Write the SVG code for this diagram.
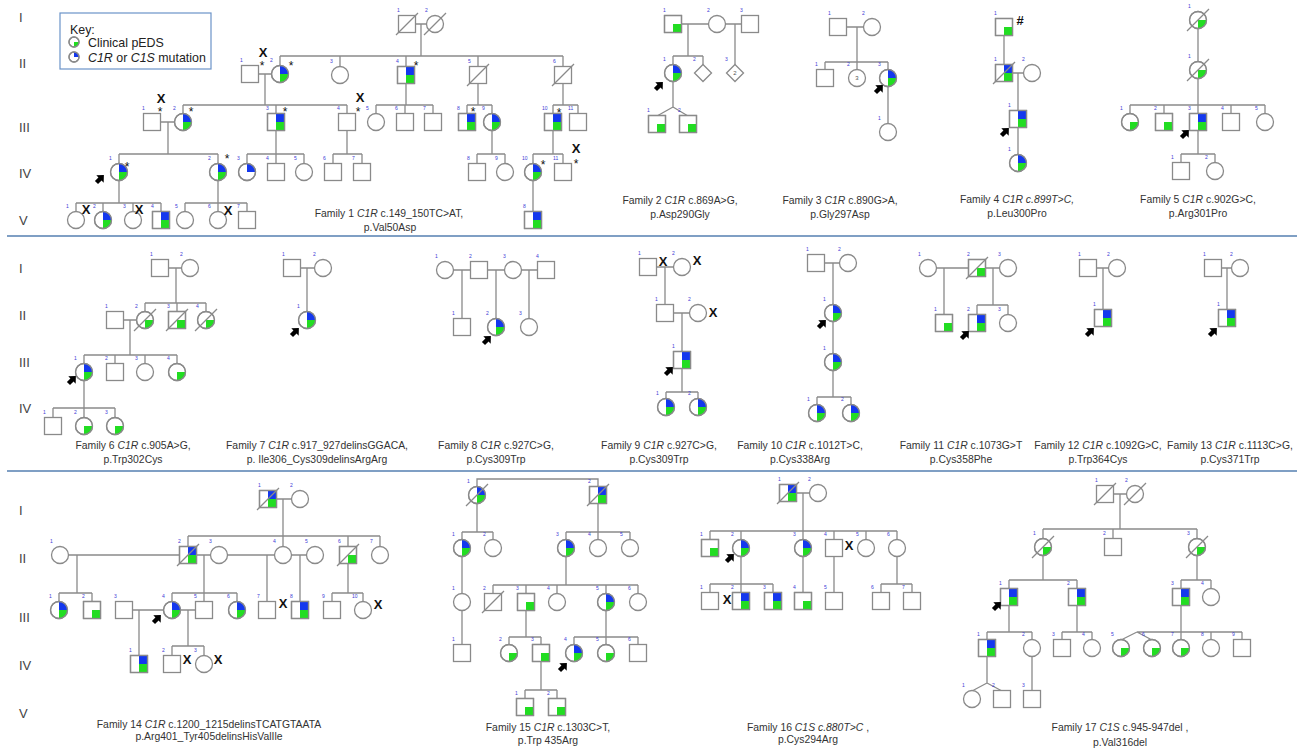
<svg xmlns="http://www.w3.org/2000/svg" width="1309" height="749" viewBox="0 0 1309 749">
<style>
.ln{stroke:#8a8a8a;stroke-width:1.3;fill:none}
.sym{fill:#fff;stroke:#8a8a8a;stroke-width:1.3}
.ol{fill:none;stroke:#8a8a8a;stroke-width:1.3}
.bl{fill:#1438ee}
.gr{fill:#22dd22}
.n{font-family:"Liberation Sans",Arial,sans-serif;font-size:5px;fill:#3b3bd6}
.in{font-family:"Liberation Sans",Arial,sans-serif;font-size:6px;fill:#555;text-anchor:middle}
.cap{font-family:"Liberation Sans",Arial,sans-serif;font-size:10.4px;fill:#333;text-anchor:middle}
.gen{font-family:"Liberation Sans",Arial,sans-serif;font-size:13px;fill:#444}
.x{font-family:"Liberation Sans",Arial,sans-serif;font-size:13px;font-weight:bold;fill:#111;text-anchor:middle}
.ast{font-family:"Liberation Sans",Arial,sans-serif;font-size:12px;fill:#111;text-anchor:middle}
.key{font-family:"Liberation Sans",Arial,sans-serif;font-size:12.4px;fill:#222}
.sep{stroke:#7f9fc4;stroke-width:2}
</style>
<defs>
<g id="s"><rect class="sym" x="-8.5" y="-8.5" width="17" height="17"/></g>
<g id="sg"><rect class="sym" x="-8.5" y="-8.5" width="17" height="17"/><rect class="gr" x="0" y="0" width="8.5" height="8.5"/><rect class="ol" x="-8.5" y="-8.5" width="17" height="17"/></g>
<g id="sbg"><rect class="sym" x="-8.5" y="-8.5" width="17" height="17"/><rect class="bl" x="0" y="-8.5" width="8.5" height="8.5"/><rect class="gr" x="0" y="0" width="8.5" height="8.5"/><rect class="ol" x="-8.5" y="-8.5" width="17" height="17"/></g>
<g id="c"><circle class="sym" r="8.5"/></g>
<g id="cg"><circle class="sym" r="8.5"/><path class="gr" d="M0,0H8.5A8.5,8.5 0 0 1 0,8.5Z"/><circle class="ol" r="8.5"/></g>
<g id="cb"><circle class="sym" r="8.5"/><path class="bl" d="M0,0V-8.5A8.5,8.5 0 0 1 8.5,0Z"/><circle class="ol" r="8.5"/></g>
<g id="cbg"><circle class="sym" r="8.5"/><path class="bl" d="M0,0V-8.5A8.5,8.5 0 0 1 8.5,0Z"/><path class="gr" d="M0,0H8.5A8.5,8.5 0 0 1 0,8.5Z"/><circle class="ol" r="8.5"/></g>
<g id="dm"><path class="sym" d="M0,-8.5L8.5,0L0,8.5L-8.5,0Z"/></g>
<line id="dz" class="ln" x1="-11" y1="11" x2="11" y2="-11"/>
<path id="pa" d="M-5,-2.2H0V-5.2L5.5,0L0,5.2V2.2H-5Z" fill="#000" transform="rotate(-45)"/>
</defs>
<rect width="1309" height="749" fill="#fff"/>

<g id="separators">
<line class="sep" x1="7" y1="236" x2="1297" y2="236"/>
<line class="sep" x1="7" y1="471" x2="1297" y2="471"/>
</g>

<g id="generation-labels">
<text class="gen" x="19" y="22">I</text><text class="gen" x="19" y="68">II</text><text class="gen" x="19" y="132">III</text><text class="gen" x="19" y="178">IV</text><text class="gen" x="19" y="225">V</text>
<text class="gen" x="19" y="273">I</text><text class="gen" x="19" y="320">II</text><text class="gen" x="19" y="367">III</text><text class="gen" x="19" y="413">IV</text>
<text class="gen" x="19" y="515">I</text><text class="gen" x="19" y="563">II</text><text class="gen" x="19" y="622">III</text><text class="gen" x="19" y="670">IV</text><text class="gen" x="19" y="718">V</text>
</g>

<g id="key">
<rect x="60" y="13" width="151" height="56" fill="#fff" stroke="#6b93c8" stroke-width="1.2"/>
<text class="key" x="70" y="34">Key:</text>
<circle class="sym" cx="74" cy="42" r="5"/><path class="gr" d="M74,42H79A5,5 0 0 1 74,47Z"/><circle class="ol" cx="74" cy="42" r="5"/>
<text class="key" x="88" y="47">Clinical pEDS</text>
<circle class="sym" cx="74" cy="57" r="5"/><path class="bl" d="M74,57V52A5,5 0 0 1 79,57Z"/><circle class="ol" cx="74" cy="57" r="5"/>
<text class="key" x="88" y="62"><tspan font-style="italic">C1R</tspan> or <tspan font-style="italic">C1S</tspan> mutation</text>
</g>

<g id="connectors">
<path class="ln" d="M407,24H435M421,24V56M280,56H563M280,56V74M340,56V75M406,56V75M478,56V75M563,56V75M250,74H280M265,74V105M183,105H347M183,105V122M276,105V122M347,105V122M406,75V105M376,105H433M376,105V122M405,105V122M433,105V122M478,75V105M467,105H492M467,105V122M492,105V122M563,75V105M553,105H578M553,105V122M578,105V122M152,122H183M168,122V154M119,154H218M119,154V172M218,154V172M276,122V154M247,154H304M247,154V172M276,154V172M304,154V172M347,122V154M333,154H362M333,154V172M362,154V172M492,122V154M477,154H505M477,154V172M505,154V172M553,122V154M533,154H563M533,154V172M563,154V172M119,172V203M76,203H161M76,203V220M103,203V220M133,203V220M161,203V220M218,172V203M185,203H247M185,203V220M218,203V220M247,203V220M533,172V220"/>
<path class="ln" d="M673,24H750M688,24V56M673,56H703M673,56V73M703,56V73M735,24V73M673,73V107M673,107L657,116M673,107L688,116"/>
<path class="ln" d="M838,27H872M857,27V62M825,62H888M825,62V78M857,62V78M888,62V132"/>
<path class="ln" d="M1004,27V73M1004,73H1032M1018,73V163"/>
<path class="ln" d="M1198,20V105M1130,105H1265M1130,105V122M1164,105V122M1231,105V122M1265,105V122M1198,105V154M1181,154H1215M1181,154V171M1215,154V171"/>
<path class="ln" d="M160,268H190M176,268V303M145,303H206M145,303V320M177,303V320M206,303V320M115,320H145M130,320V355M84,355H177M84,355V372M115,355V372M145,355V372M177,355V372M84,372V408M53,408H115M53,408V426M84,408V426M115,408V426"/>
<path class="ln" d="M292,268H323M307,268V320"/>
<path class="ln" d="M445,270H546M462,270V327M496,270V327M529,270V327"/>
<path class="ln" d="M648,267H682M665,267V313M665,313H698M682,313V392M666,392H698M666,392V407M698,392V407"/>
<path class="ln" d="M816,263H848M833,263V397M817,397H851M817,397V413M851,397V413"/>
<path class="ln" d="M928,268H1008M944,268V323M993,268V305M977,305H1008M977,305V323M1008,305V323"/>
<path class="ln" d="M1088,268H1117M1103,268V318M1213,268H1240M1227,268V318"/>
<path class="ln" d="M268,499H300M283,499V536M188,536H380M188,536V555M283,536V555M348,536V555M380,536V555M60,555H315M77,555V593M59,593H92M59,593V610M92,593V610M204,555V593M172,593H237M172,593V610M204,593V610M237,593V610M267,555V610M300,555V610M348,555V593M332,593H363M332,593V610M363,593V610M124,610H204M139,610V664M188,610V646M172,646H204M172,646V664M204,646V664"/>
<path class="ln" d="M477,495V479H598V495M477,495V532M462,532H493M462,532V548M493,532V548M598,495V532M566,532H630M566,532V548M598,532V548M630,532V548M462,548V653M566,548V585M493,585H638M493,585V602M526,585V602M557,585V602M606,585V602M638,585V602M526,602V637M509,637H541M509,637V653M541,637V653M606,602V637M574,637H638M574,637V653M606,637V653M638,637V653M541,653V690M525,690H557M525,690V707M557,690V707"/>
<path class="ln" d="M788,493H818M803,493V531M710,531H897M710,531V548M741,531V548M803,531V548M834,531V548M866,531V548M897,531V548M741,548V584M710,584H773M710,584V601M741,584V601M773,584V601M803,548V601M834,548V601M897,548V584M881,584H912M881,584V601M912,584V601"/>
<path class="ln" d="M1105,494H1135M1120,494V529M1043,529H1197M1043,529V547M1113,529V547M1197,529V547M1043,547V580M1009,580H1077M1009,580V597M1077,580V597M1197,547V580M1181,580H1211M1181,580V597M1211,580V597M1009,597V632M987,632H1032M987,632V648M1032,632V648M1077,597V632M1062,632H1092M1062,632V648M1092,632V648M1181,597V632M1137,632H1242M1137,632L1121,640M1137,632L1152,640M1181,632V648M1211,632V648M1242,632V648M987,648V683M987,683L972,691M987,683L1002,691M1032,648V699"/>
</g>

<g id="family1">
<g id="f1-I-1"><use href="#s" x="407" y="24"/><use href="#dz" x="407" y="24"/><text class="n" x="397" y="12">1</text></g>
<g id="f1-I-2"><use href="#c" x="435" y="24"/><use href="#dz" x="435" y="24"/><text class="n" x="425" y="12">2</text></g>
<g id="f1-II-1"><use href="#s" x="250" y="74"/><text class="n" x="240" y="62">1</text><text class="x" x="263" y="57">X</text><text class="ast" x="262" y="70">*</text></g>
<g id="f1-II-2"><use href="#cbg" x="280" y="74"/><text class="n" x="270" y="62">2</text><text class="ast" x="291" y="70">*</text></g>
<g id="f1-II-3"><use href="#c" x="340" y="75"/><text class="n" x="330" y="63">3</text></g>
<g id="f1-II-4"><use href="#sbg" x="406" y="75"/><text class="n" x="396" y="63">4</text><text class="ast" x="416" y="70">*</text></g>
<g id="f1-II-5"><use href="#s" x="478" y="75"/><use href="#dz" x="478" y="75"/><text class="n" x="468" y="63">5</text></g>
<g id="f1-II-6"><use href="#s" x="563" y="75"/><use href="#dz" x="563" y="75"/><text class="n" x="553" y="63">6</text></g>
<g id="f1-III-1"><use href="#s" x="152" y="122"/><text class="n" x="142" y="110">1</text><text class="x" x="161" y="103">X</text><text class="ast" x="160" y="116">*</text></g>
<g id="f1-III-2"><use href="#cbg" x="183" y="122"/><text class="n" x="173" y="110">2</text><text class="ast" x="191" y="116">*</text></g>
<g id="f1-III-3"><use href="#sbg" x="276" y="122"/><text class="n" x="266" y="110">3</text><text class="ast" x="285" y="116">*</text></g>
<g id="f1-III-4"><use href="#s" x="347" y="122"/><text class="n" x="337" y="110">4</text><text class="x" x="360" y="102">X</text><text class="ast" x="358" y="116">*</text></g>
<g id="f1-III-5"><use href="#c" x="376" y="122"/><text class="n" x="366" y="110">5</text></g>
<g id="f1-III-6"><use href="#s" x="405" y="122"/><text class="n" x="395" y="110">6</text></g>
<g id="f1-III-7"><use href="#s" x="433" y="122"/><text class="n" x="423" y="110">7</text></g>
<g id="f1-III-8"><use href="#sbg" x="467" y="122"/><text class="n" x="457" y="110">8</text><text class="ast" x="473" y="116">*</text></g>
<g id="f1-III-9"><use href="#cbg" x="492" y="122"/><text class="n" x="482" y="110">9</text></g>
<g id="f1-III-10"><use href="#sbg" x="553" y="122"/><text class="n" x="542" y="110">10</text><text class="ast" x="559" y="117">*</text></g>
<g id="f1-III-11"><use href="#s" x="578" y="122"/><text class="n" x="568" y="110">11</text></g>
<g id="f1-IV-1"><use href="#cbg" x="119" y="172"/><text class="n" x="109" y="160">1</text><text class="ast" x="127" y="171">*</text><use href="#pa" x="100" y="179"/></g>
<g id="f1-IV-2"><use href="#cbg" x="218" y="172"/><text class="n" x="208" y="160">2</text><text class="ast" x="227" y="163">*</text></g>
<g id="f1-IV-3"><use href="#cb" x="247" y="172"/><text class="n" x="237" y="160">3</text></g>
<g id="f1-IV-4"><use href="#s" x="276" y="172"/><text class="n" x="266" y="160">4</text></g>
<g id="f1-IV-5"><use href="#c" x="304" y="172"/><text class="n" x="294" y="160">5</text></g>
<g id="f1-IV-6"><use href="#s" x="333" y="172"/><text class="n" x="323" y="160">6</text></g>
<g id="f1-IV-7"><use href="#s" x="362" y="172"/><text class="n" x="352" y="160">7</text></g>
<g id="f1-IV-8"><use href="#s" x="477" y="172"/><text class="n" x="467" y="160">8</text></g>
<g id="f1-IV-9"><use href="#c" x="505" y="172"/><text class="n" x="495" y="160">9</text></g>
<g id="f1-IV-10"><use href="#cbg" x="533" y="172"/><text class="n" x="522" y="160">10</text><text class="ast" x="543" y="169">*</text></g>
<g id="f1-IV-11"><use href="#s" x="563" y="172"/><text class="n" x="553" y="160">11</text><text class="x" x="576" y="153">X</text><text class="ast" x="576" y="168">*</text></g>
<g id="f1-V-1"><use href="#c" x="76" y="220"/><text class="n" x="66" y="208">1</text><text class="x" x="86" y="214">X</text></g>
<g id="f1-V-2"><use href="#cbg" x="103" y="220"/><text class="n" x="93" y="208">2</text></g>
<g id="f1-V-3"><use href="#c" x="133" y="220"/><text class="n" x="123" y="208">3</text><text class="x" x="139" y="214">X</text></g>
<g id="f1-V-4"><use href="#sbg" x="161" y="220"/><text class="n" x="151" y="208">4</text></g>
<g id="f1-V-5"><use href="#c" x="185" y="220"/><text class="n" x="175" y="208">5</text></g>
<g id="f1-V-6"><use href="#c" x="218" y="220"/><text class="n" x="208" y="208">6</text><text class="x" x="228" y="215">X</text></g>
<g id="f1-V-7"><use href="#s" x="247" y="220"/><text class="n" x="237" y="208">7</text></g>
<g id="f1-V-8"><use href="#sbg" x="533" y="220"/><text class="n" x="523" y="208">8</text></g>
<text class="cap" x="389" y="217">Family 1 <tspan font-style="italic">C1R</tspan>  c.149_150TC&gt;AT,</text>
<text class="cap" x="390" y="231">p.Val50Asp</text>
</g>

<g id="family2">
<g id="f2-I-1"><use href="#sg" x="673" y="24"/><text class="n" x="663" y="12">1</text></g>
<g id="f2-I-2"><use href="#c" x="717" y="24"/><text class="n" x="707" y="12">2</text></g>
<g id="f2-I-3"><use href="#s" x="750" y="24"/><text class="n" x="740" y="12">3</text></g>
<g id="f2-II-1"><use href="#cbg" x="673" y="73"/><text class="n" x="663" y="61">1</text><use href="#pa" x="659" y="86"/></g>
<g id="f2-II-2"><use href="#dm" x="703" y="73"/><text class="n" x="693" y="61">2</text></g>
<g id="f2-II-3"><use href="#dm" x="735" y="73"/><text class="n" x="725" y="61">3</text><text class="in" x="735" y="75">2</text></g>
<g id="f2-III-1"><use href="#sg" x="657" y="124"/><text class="n" x="647" y="112">1</text></g>
<g id="f2-III-2"><use href="#sg" x="688" y="124"/><text class="n" x="678" y="112">2</text></g>
<text class="cap" x="680" y="204">Family 2 <tspan font-style="italic">C1R</tspan> c.869A&gt;G,</text>
<text class="cap" x="680" y="218">p.Asp290Gly</text>
</g>

<g id="family3">
<g id="f3-I-1"><use href="#s" x="838" y="27"/><text class="n" x="828" y="15">1</text></g>
<g id="f3-I-2"><use href="#c" x="872" y="27"/><text class="n" x="862" y="15">2</text></g>
<g id="f3-II-1"><use href="#s" x="825" y="78"/><text class="n" x="815" y="66">1</text></g>
<g id="f3-II-2"><use href="#c" x="857" y="78"/><text class="n" x="847" y="66">2</text><text class="in" x="857" y="80">3</text></g>
<g id="f3-II-3"><use href="#cbg" x="888" y="78"/><text class="n" x="878" y="66">3</text><use href="#pa" x="879" y="89"/></g>
<g id="f3-III-1"><use href="#c" x="888" y="132"/><text class="n" x="878" y="120">1</text></g>
<text class="cap" x="840" y="204">Family 3 <tspan font-style="italic">C1R</tspan> c.890G&gt;A,</text>
<text class="cap" x="840" y="218">p.Gly297Asp</text>
</g>

<g id="family4">
<g id="f4-I-1"><use href="#sg" x="1004" y="27"/><text class="n" x="994" y="15">1</text><text class="x" x="1020" y="25">#</text></g>
<g id="f4-II-1"><use href="#sbg" x="1004" y="73"/><use href="#dz" x="1004" y="73"/><text class="n" x="994" y="61">1</text></g>
<g id="f4-II-2"><use href="#c" x="1032" y="73"/><text class="n" x="1022" y="61">2</text></g>
<g id="f4-III-1"><use href="#sbg" x="1018" y="119"/><text class="n" x="1008" y="107">1</text><use href="#pa" x="1005" y="132"/></g>
<g id="f4-IV-1"><use href="#cbg" x="1018" y="163"/><text class="n" x="1008" y="151">1</text></g>
<text class="cap" x="1017" y="203">Family 4 <tspan font-style="italic">C1R c.899T&gt;C,</tspan></text>
<text class="cap" x="1017" y="217">p.Leu300Pro</text>
</g>

<g id="family5">
<g id="f5-I-1"><use href="#cg" x="1198" y="20"/><use href="#dz" x="1198" y="20"/><text class="n" x="1188" y="8">1</text></g>
<g id="f5-II-1"><use href="#cg" x="1198" y="70"/><use href="#dz" x="1198" y="70"/><text class="n" x="1188" y="58">1</text></g>
<g id="f5-III-1"><use href="#cg" x="1130" y="122"/><text class="n" x="1120" y="110">1</text></g>
<g id="f5-III-2"><use href="#sg" x="1164" y="122"/><text class="n" x="1154" y="110">2</text></g>
<g id="f5-III-3"><use href="#sbg" x="1198" y="122"/><text class="n" x="1188" y="110">3</text><use href="#pa" x="1185" y="134"/></g>
<g id="f5-III-4"><use href="#s" x="1231" y="122"/><text class="n" x="1221" y="110">4</text></g>
<g id="f5-III-5"><use href="#c" x="1265" y="122"/><text class="n" x="1255" y="110">5</text></g>
<g id="f5-IV-1"><use href="#s" x="1181" y="171"/><text class="n" x="1171" y="159">1</text></g>
<g id="f5-IV-2"><use href="#c" x="1215" y="171"/><text class="n" x="1205" y="159">2</text></g>
<text class="cap" x="1198" y="203">Family 5 <tspan font-style="italic">C1R</tspan> c.902G&gt;C,</text>
<text class="cap" x="1198" y="217">p.Arg301Pro</text>
</g>

<g id="family6">
<g id="f6-I-1"><use href="#s" x="160" y="268"/><text class="n" x="150" y="256">1</text></g>
<g id="f6-I-2"><use href="#c" x="190" y="268"/><text class="n" x="180" y="256">2</text></g>
<g id="f6-II-1"><use href="#s" x="115" y="320"/><text class="n" x="105" y="308">1</text></g>
<g id="f6-II-2"><use href="#cg" x="145" y="320"/><use href="#dz" x="145" y="320"/><text class="n" x="135" y="308">2</text></g>
<g id="f6-II-3"><use href="#sg" x="177" y="320"/><use href="#dz" x="177" y="320"/><text class="n" x="167" y="308">3</text></g>
<g id="f6-II-4"><use href="#cg" x="206" y="320"/><use href="#dz" x="206" y="320"/><text class="n" x="196" y="308">4</text></g>
<g id="f6-III-1"><use href="#cbg" x="84" y="372"/><text class="n" x="74" y="360">1</text><use href="#pa" x="72" y="380"/></g>
<g id="f6-III-2"><use href="#s" x="115" y="372"/><text class="n" x="105" y="360">2</text></g>
<g id="f6-III-3"><use href="#c" x="145" y="372"/><text class="n" x="135" y="360">3</text></g>
<g id="f6-III-4"><use href="#cg" x="177" y="372"/><text class="n" x="167" y="360">4</text></g>
<g id="f6-IV-1"><use href="#s" x="53" y="426"/><text class="n" x="43" y="414">1</text></g>
<g id="f6-IV-2"><use href="#cg" x="84" y="426"/><text class="n" x="74" y="414">2</text></g>
<g id="f6-IV-3"><use href="#cg" x="115" y="426"/><text class="n" x="105" y="414">3</text></g>
<text class="cap" x="133" y="449">Family 6 <tspan font-style="italic">C1R</tspan> c.905A&gt;G,</text>
<text class="cap" x="133" y="462.5">p.Trp302Cys</text>
</g>

<g id="family7">
<g id="f7-I-1"><use href="#s" x="292" y="268"/><text class="n" x="282" y="256">1</text></g>
<g id="f7-I-2"><use href="#c" x="323" y="268"/><text class="n" x="313" y="256">2</text></g>
<g id="f7-II-1"><use href="#cbg" x="307" y="320"/><text class="n" x="297" y="308">1</text><use href="#pa" x="295" y="332"/></g>
<text class="cap" x="317" y="449">Family 7 <tspan font-style="italic">C1R</tspan> c.917_927delinsGGACA,</text>
<text class="cap" x="317" y="462.5">p. Ile306_Cys309delinsArgArg</text>
</g>

<g id="family8">
<g id="f8-I-1"><use href="#c" x="445" y="270"/><text class="n" x="435" y="258">1</text></g>
<g id="f8-I-2"><use href="#s" x="479" y="270"/><text class="n" x="469" y="258">2</text></g>
<g id="f8-I-3"><use href="#c" x="513" y="270"/><text class="n" x="503" y="258">3</text></g>
<g id="f8-I-4"><use href="#s" x="546" y="270"/><text class="n" x="536" y="258">4</text></g>
<g id="f8-II-1"><use href="#s" x="462" y="327"/><text class="n" x="452" y="315">1</text></g>
<g id="f8-II-2"><use href="#cbg" x="496" y="327"/><text class="n" x="486" y="315">2</text><use href="#pa" x="487" y="340"/></g>
<g id="f8-II-3"><use href="#c" x="529" y="327"/><text class="n" x="519" y="315">3</text></g>
<text class="cap" x="496" y="449">Family 8 <tspan font-style="italic">C1R</tspan> c.927C&gt;G,</text>
<text class="cap" x="496" y="462.5">p.Cys309Trp</text>
</g>

<g id="family9">
<g id="f9-I-1"><use href="#s" x="648" y="267"/><text class="n" x="638" y="255">1</text><text class="x" x="663" y="266">X</text></g>
<g id="f9-I-2"><use href="#c" x="682" y="267"/><text class="n" x="672" y="255">2</text><text class="x" x="697" y="265">X</text></g>
<g id="f9-II-1"><use href="#s" x="665" y="313"/><text class="n" x="655" y="301">1</text></g>
<g id="f9-II-2"><use href="#c" x="698" y="313"/><text class="n" x="688" y="301">2</text><text class="x" x="713" y="317">X</text></g>
<g id="f9-III-1"><use href="#sbg" x="682" y="360"/><text class="n" x="672" y="348">1</text><use href="#pa" x="669" y="371"/></g>
<g id="f9-IV-1"><use href="#cbg" x="666" y="407"/><text class="n" x="656" y="395">1</text></g>
<g id="f9-IV-2"><use href="#cbg" x="698" y="407"/><text class="n" x="688" y="395">2</text></g>
<text class="cap" x="659" y="449">Family 9 <tspan font-style="italic">C1R</tspan> c.927C&gt;G,</text>
<text class="cap" x="659" y="462.5">p.Cys309Trp</text>
</g>

<g id="family10">
<g id="f10-I-1"><use href="#s" x="816" y="263"/><text class="n" x="806" y="251">1</text></g>
<g id="f10-I-2"><use href="#c" x="848" y="263"/><text class="n" x="838" y="251">2</text></g>
<g id="f10-II-1"><use href="#cbg" x="833" y="313"/><text class="n" x="823" y="301">1</text><use href="#pa" x="822" y="324"/></g>
<g id="f10-III-1"><use href="#cbg" x="833" y="362"/><text class="n" x="823" y="350">1</text></g>
<g id="f10-IV-1"><use href="#cbg" x="817" y="413"/><text class="n" x="807" y="401">1</text></g>
<g id="f10-IV-2"><use href="#cbg" x="851" y="413"/><text class="n" x="841" y="401">2</text></g>
<text class="cap" x="800" y="449">Family 10 <tspan font-style="italic">C1R</tspan> c.1012T&gt;C,</text>
<text class="cap" x="800" y="462.5">p.Cys338Arg</text>
</g>

<g id="family11">
<g id="f11-I-1"><use href="#c" x="928" y="268"/><text class="n" x="918" y="256">1</text></g>
<g id="f11-I-2"><use href="#sg" x="977" y="268"/><use href="#dz" x="977" y="268"/><text class="n" x="967" y="256">2</text></g>
<g id="f11-I-3"><use href="#c" x="1008" y="268"/><text class="n" x="998" y="256">3</text></g>
<g id="f11-II-1"><use href="#sg" x="944" y="323"/><text class="n" x="934" y="311">1</text></g>
<g id="f11-II-2"><use href="#sbg" x="977" y="323"/><text class="n" x="967" y="311">2</text><use href="#pa" x="965" y="335"/></g>
<g id="f11-II-3"><use href="#c" x="1008" y="323"/><text class="n" x="998" y="311">3</text></g>
<text class="cap" x="961" y="449">Family 11 <tspan font-style="italic">C1R</tspan> c.1073G&gt;T</text>
<text class="cap" x="961" y="462.5">p.Cys358Phe</text>
</g>

<g id="family12">
<g id="f12-I-1"><use href="#s" x="1088" y="268"/><text class="n" x="1078" y="256">1</text></g>
<g id="f12-I-2"><use href="#c" x="1117" y="268"/><text class="n" x="1107" y="256">2</text></g>
<g id="f12-II-1"><use href="#sbg" x="1103" y="318"/><text class="n" x="1093" y="306">1</text><use href="#pa" x="1090" y="332"/></g>
<text class="cap" x="1098" y="449">Family 12 <tspan font-style="italic">C1R</tspan> c.1092G&gt;C,</text>
<text class="cap" x="1098" y="462.5">p.Trp364Cys</text>
</g>

<g id="family13">
<g id="f13-I-1"><use href="#s" x="1213" y="268"/><text class="n" x="1203" y="256">1</text></g>
<g id="f13-I-2"><use href="#c" x="1240" y="268"/><text class="n" x="1230" y="256">2</text></g>
<g id="f13-II-1"><use href="#sbg" x="1227" y="318"/><text class="n" x="1217" y="306">1</text><use href="#pa" x="1213" y="332"/></g>
<text class="cap" x="1230" y="449">Family 13 <tspan font-style="italic">C1R</tspan> c.1113C&gt;G,</text>
<text class="cap" x="1230" y="462.5">p.Cys371Trp</text>
</g>

<g id="family14">
<g id="f14-I-1"><use href="#sbg" x="268" y="499"/><use href="#dz" x="268" y="499"/><text class="n" x="258" y="487">1</text></g>
<g id="f14-I-2"><use href="#c" x="300" y="499"/><text class="n" x="290" y="487">2</text></g>
<g id="f14-II-1"><use href="#c" x="60" y="555"/><text class="n" x="50" y="543">1</text></g>
<g id="f14-II-2"><use href="#sbg" x="188" y="555"/><use href="#dz" x="188" y="555"/><text class="n" x="178" y="543">2</text></g>
<g id="f14-II-3"><use href="#c" x="219" y="555"/><text class="n" x="209" y="543">3</text></g>
<g id="f14-II-4"><use href="#c" x="283" y="555"/><text class="n" x="273" y="543">4</text></g>
<g id="f14-II-5"><use href="#c" x="315" y="555"/><text class="n" x="305" y="543">5</text></g>
<g id="f14-II-6"><use href="#sg" x="348" y="555"/><use href="#dz" x="348" y="555"/><text class="n" x="338" y="543">6</text></g>
<g id="f14-II-7"><use href="#c" x="380" y="555"/><text class="n" x="370" y="543">7</text></g>
<g id="f14-III-1"><use href="#cbg" x="59" y="610"/><text class="n" x="49" y="598">1</text></g>
<g id="f14-III-2"><use href="#sg" x="92" y="610"/><text class="n" x="82" y="598">2</text></g>
<g id="f14-III-3"><use href="#s" x="124" y="610"/><text class="n" x="114" y="598">3</text></g>
<g id="f14-III-4"><use href="#cbg" x="172" y="610"/><text class="n" x="162" y="598">4</text><use href="#pa" x="157" y="619"/></g>
<g id="f14-III-5"><use href="#s" x="204" y="610"/><text class="n" x="194" y="598">5</text></g>
<g id="f14-III-6"><use href="#cbg" x="237" y="610"/><text class="n" x="227" y="598">6</text></g>
<g id="f14-III-7"><use href="#s" x="267" y="610"/><text class="n" x="257" y="598">7</text><text class="x" x="283" y="608">X</text></g>
<g id="f14-III-8"><use href="#sbg" x="300" y="610"/><text class="n" x="290" y="598">8</text></g>
<g id="f14-III-9"><use href="#s" x="332" y="610"/><text class="n" x="322" y="598">9</text></g>
<g id="f14-III-10"><use href="#c" x="363" y="610"/><text class="n" x="352" y="598">10</text><text class="x" x="378" y="609">X</text></g>
<g id="f14-IV-1"><use href="#sbg" x="139" y="664"/><text class="n" x="129" y="652">1</text></g>
<g id="f14-IV-2"><use href="#s" x="172" y="664"/><text class="n" x="162" y="652">2</text><text class="x" x="187" y="664">X</text></g>
<g id="f14-IV-3"><use href="#c" x="204" y="664"/><text class="n" x="194" y="652">3</text><text class="x" x="218" y="664">X</text></g>
<text class="cap" x="209" y="728">Family 14 <tspan font-style="italic">C1R</tspan> c.1200_1215delinsTCATGTAATA</text>
<text class="cap" x="209" y="740">p.Arg401_Tyr405delinsHisValIle</text>
</g>

<g id="family15">
<g id="f15-I-1"><use href="#cbg" x="477" y="495"/><use href="#dz" x="477" y="495"/><text class="n" x="467" y="483">1</text></g>
<g id="f15-I-2"><use href="#sbg" x="598" y="495"/><use href="#dz" x="598" y="495"/><text class="n" x="588" y="483">2</text></g>
<g id="f15-II-1"><use href="#cbg" x="462" y="548"/><text class="n" x="452" y="536">1</text></g>
<g id="f15-II-2"><use href="#c" x="493" y="548"/><text class="n" x="483" y="536">2</text></g>
<g id="f15-II-3"><use href="#cbg" x="566" y="548"/><text class="n" x="556" y="536">3</text></g>
<g id="f15-II-4"><use href="#c" x="598" y="548"/><text class="n" x="588" y="536">4</text></g>
<g id="f15-II-5"><use href="#c" x="630" y="548"/><text class="n" x="620" y="536">5</text></g>
<g id="f15-III-1"><use href="#c" x="462" y="602"/><text class="n" x="452" y="590">1</text></g>
<g id="f15-III-2"><use href="#s" x="493" y="602"/><use href="#dz" x="493" y="602"/><text class="n" x="483" y="590">2</text></g>
<g id="f15-III-3"><use href="#sg" x="526" y="602"/><text class="n" x="516" y="590">3</text></g>
<g id="f15-III-4"><use href="#c" x="557" y="602"/><text class="n" x="547" y="590">4</text></g>
<g id="f15-III-5"><use href="#cbg" x="606" y="602"/><text class="n" x="596" y="590">5</text></g>
<g id="f15-III-6"><use href="#c" x="638" y="602"/><text class="n" x="628" y="590">6</text></g>
<g id="f15-IV-1"><use href="#s" x="462" y="653"/><text class="n" x="452" y="641">1</text></g>
<g id="f15-IV-2"><use href="#cg" x="509" y="653"/><text class="n" x="499" y="641">2</text></g>
<g id="f15-IV-3"><use href="#sg" x="541" y="653"/><text class="n" x="531" y="641">3</text></g>
<g id="f15-IV-4"><use href="#cbg" x="574" y="653"/><text class="n" x="564" y="641">4</text><use href="#pa" x="563" y="667"/></g>
<g id="f15-IV-5"><use href="#cg" x="606" y="653"/><text class="n" x="596" y="641">5</text></g>
<g id="f15-IV-6"><use href="#s" x="638" y="653"/><text class="n" x="628" y="641">6</text></g>
<g id="f15-V-1"><use href="#sg" x="525" y="707"/><text class="n" x="515" y="695">1</text></g>
<g id="f15-V-2"><use href="#sg" x="557" y="707"/><text class="n" x="547" y="695">2</text></g>
<text class="cap" x="548" y="731">Family 15  <tspan font-style="italic">C1R</tspan> c.1303C&gt;T,</text>
<text class="cap" x="548" y="744">p.Trp 435Arg</text>
</g>

<g id="family16">
<g id="f16-I-1"><use href="#sbg" x="788" y="493"/><use href="#dz" x="788" y="493"/><text class="n" x="778" y="481">1</text></g>
<g id="f16-I-2"><use href="#c" x="818" y="493"/><text class="n" x="808" y="481">2</text></g>
<g id="f16-II-1"><use href="#sg" x="710" y="548"/><text class="n" x="700" y="536">1</text></g>
<g id="f16-II-2"><use href="#cbg" x="741" y="548"/><text class="n" x="731" y="536">2</text><use href="#pa" x="730" y="558"/></g>
<g id="f16-II-3"><use href="#cbg" x="803" y="548"/><text class="n" x="793" y="536">3</text></g>
<g id="f16-II-4"><use href="#s" x="834" y="548"/><text class="n" x="824" y="536">4</text><text class="x" x="849" y="550">X</text></g>
<g id="f16-II-5"><use href="#c" x="866" y="548"/><text class="n" x="856" y="536">5</text></g>
<g id="f16-II-6"><use href="#c" x="897" y="548"/><text class="n" x="887" y="536">6</text></g>
<g id="f16-III-1"><use href="#s" x="710" y="601"/><text class="n" x="700" y="589">1</text><text class="x" x="727" y="604">X</text></g>
<g id="f16-III-2"><use href="#sbg" x="741" y="601"/><text class="n" x="731" y="589">2</text></g>
<g id="f16-III-3"><use href="#sbg" x="773" y="601"/><text class="n" x="763" y="589">3</text></g>
<g id="f16-III-4"><use href="#sg" x="803" y="601"/><text class="n" x="793" y="589">4</text></g>
<g id="f16-III-5"><use href="#s" x="834" y="601"/><text class="n" x="824" y="589">5</text></g>
<g id="f16-III-6"><use href="#s" x="881" y="601"/><text class="n" x="871" y="589">6</text></g>
<g id="f16-III-7"><use href="#s" x="912" y="601"/><text class="n" x="902" y="589">7</text></g>
<text class="cap" x="808" y="731">Family 16 <tspan font-style="italic">C1S c.880T&gt;C</tspan> ,</text>
<text class="cap" x="808" y="743">p.Cys294Arg</text>
</g>

<g id="family17">
<g id="f17-I-1"><use href="#s" x="1105" y="494"/><use href="#dz" x="1105" y="494"/><text class="n" x="1095" y="482">1</text></g>
<g id="f17-I-2"><use href="#c" x="1135" y="494"/><use href="#dz" x="1135" y="494"/><text class="n" x="1125" y="482">2</text></g>
<g id="f17-II-1"><use href="#cg" x="1043" y="547"/><use href="#dz" x="1043" y="547"/><text class="n" x="1033" y="535">1</text></g>
<g id="f17-II-2"><use href="#s" x="1113" y="547"/><text class="n" x="1103" y="535">2</text></g>
<g id="f17-II-3"><use href="#cg" x="1197" y="547"/><use href="#dz" x="1197" y="547"/><text class="n" x="1187" y="535">3</text></g>
<g id="f17-III-1"><use href="#sbg" x="1009" y="597"/><text class="n" x="999" y="585">1</text><use href="#pa" x="997" y="606"/></g>
<g id="f17-III-2"><use href="#sbg" x="1077" y="597"/><text class="n" x="1067" y="585">2</text></g>
<g id="f17-III-3"><use href="#sbg" x="1181" y="597"/><text class="n" x="1171" y="585">3</text></g>
<g id="f17-III-4"><use href="#c" x="1211" y="597"/><text class="n" x="1201" y="585">4</text></g>
<g id="f17-IV-1"><use href="#sbg" x="987" y="648"/><text class="n" x="977" y="636">1</text></g>
<g id="f17-IV-2"><use href="#c" x="1032" y="648"/><text class="n" x="1022" y="636">2</text></g>
<g id="f17-IV-3"><use href="#s" x="1062" y="648"/><text class="n" x="1052" y="636">3</text></g>
<g id="f17-IV-4"><use href="#c" x="1092" y="648"/><text class="n" x="1082" y="636">4</text></g>
<g id="f17-IV-5"><use href="#cg" x="1121" y="648"/><text class="n" x="1111" y="636">5</text></g>
<g id="f17-IV-6"><use href="#cg" x="1152" y="648"/><text class="n" x="1142" y="636">6</text></g>
<g id="f17-IV-7"><use href="#cg" x="1181" y="648"/><text class="n" x="1171" y="636">7</text></g>
<g id="f17-IV-8"><use href="#c" x="1211" y="648"/><text class="n" x="1201" y="636">8</text></g>
<g id="f17-IV-9"><use href="#s" x="1242" y="648"/><text class="n" x="1232" y="636">9</text></g>
<g id="f17-V-1"><use href="#c" x="972" y="699"/><text class="n" x="962" y="687">1</text></g>
<g id="f17-V-2"><use href="#s" x="1002" y="699"/><text class="n" x="992" y="687">2</text></g>
<g id="f17-V-3"><use href="#s" x="1032" y="699"/><text class="n" x="1022" y="687">3</text></g>
<text class="cap" x="1120" y="731">Family 17 <tspan font-style="italic">C1S</tspan> c.945-947del ,</text>
<text class="cap" x="1120" y="746">p.Val316del</text>
</g>
</svg>
